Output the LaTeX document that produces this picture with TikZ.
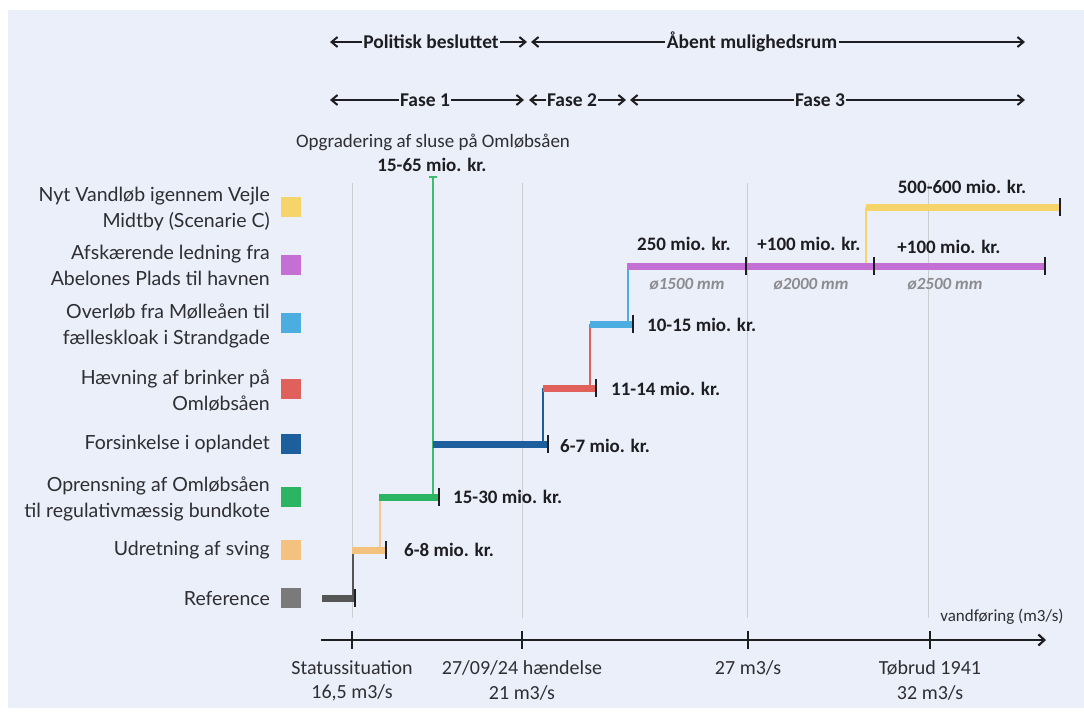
\documentclass[tikz,border=0pt]{standalone}
\usepackage{fontspec}
\setmainfont{Carlito}
\newfontfamily\legfont{Lato}
\usetikzlibrary{arrows.meta}
\definecolor{bg}{HTML}{EBEFF9}
\definecolor{gridc}{HTML}{CBCDD2}
\definecolor{tickc}{HTML}{1E1E22}
\definecolor{txtc}{HTML}{2E2E33}
\definecolor{yelc}{HTML}{F5D46A}
\definecolor{purc}{HTML}{C36FD4}
\definecolor{lbluc}{HTML}{4BADE0}
\definecolor{redc}{HTML}{E0615B}
\definecolor{dbluc}{HTML}{1C5F9C}
\definecolor{grnc}{HTML}{2BB462}
\definecolor{orac}{HTML}{F3C27E}
\definecolor{grayc}{HTML}{555555}
\definecolor{sqgray}{HTML}{7A7A7A}
\definecolor{dimc}{HTML}{8C8C90}
\tikzset{
  gridline/.style={draw=gridc, line width=0.9pt},
  bar/.style={line width=7pt, line cap=butt},
  conn/.style={line width=2.2pt, line cap=butt},
  tickn/.style={fill=tickc, minimum width=2.8pt, minimum height=18pt, inner sep=0pt, draw=none},
  costlbl/.style={font=\bfseries\fontsize{19}{22}\selectfont, text=tickc, inner sep=0pt},
  dimlbl/.style={font=\bfseries\itshape\fontsize{17}{19}\selectfont, text=dimc, inner sep=0pt},
  leg/.style={font=\legfont\fontsize{19.5}{26}\selectfont, align=right, anchor=east, text=txtc, inner sep=0pt},
  sq/.style={minimum size=20pt, inner sep=0pt, draw=none},
  phasearr/.style={line width=2pt, draw=tickc, {Straight Barb[length=6pt,width=10pt]}-{Straight Barb[length=6pt,width=10pt]}},
  phaselbl/.style={fill=bg, font=\bfseries\fontsize{19.5}{22}\selectfont, text=tickc, inner xsep=1.5pt, inner ysep=1pt},
  axlbl/.style={font=\fontsize{20}{23}\selectfont, text=txtc, inner sep=0pt}
}
\begin{document}
\begin{tikzpicture}[x=1pt,y=-1pt]
\useasboundingbox (0,0) rectangle (1084,713);
\fill[white] (0,0) rectangle (1084,713);
\fill[bg] (8,10) rectangle (1084,708);

% ---- phase arrows ----
\coordinate (pa0) at (330,42); \coordinate (pa1) at (527,42);
\coordinate (pb0) at (531,42); \coordinate (pb1) at (1025,42);
\draw[phasearr] (pa0) -- (pa1);
\draw[phasearr] (pb0) -- (pb1);
\node[phaselbl] (polit) at (431,42) {Politisk besluttet};
\node[phaselbl] (aabent) at (752,42) {Åbent mulighedsrum};
\coordinate (fa0) at (330,100); \coordinate (fa1) at (524,100);
\coordinate (fb0) at (529,100); \coordinate (fb1) at (626,100);
\coordinate (fc0) at (630,100); \coordinate (fc1) at (1025,100);
\draw[phasearr] (fa0) -- (fa1);
\draw[phasearr] (fb0) -- (fb1);
\draw[phasearr] (fc0) -- (fc1);
\node[phaselbl] (fase1) at (425,100) {Fase 1};
\node[phaselbl] (fase2) at (572,100) {Fase 2};
\node[phaselbl] (fase3) at (820,100) {Fase 3};

% ---- gridlines ----
\foreach \gx/\nm in {352/a,522/b,747/c,928/d}{
  \coordinate (gt\nm) at (\gx,183);
  \coordinate (gb\nm) at (\gx,618);
  \draw[gridline] (gt\nm) -- (gb\nm);
}

% ---- axis ----
\coordinate (ax0) at (321,640); \coordinate (ax1) at (1046,640);
\draw[line width=2.2pt, draw=tickc, -{Straight Barb[length=6pt,width=11pt]}] (ax0) -- (ax1);
\node[tickn] (t1) at (352,640) {};
\node[tickn] (t2) at (522,640) {};
\node[tickn] (t3) at (748,640) {};
\node[tickn] (t4) at (930,640) {};
\node[font=\fontsize{17}{19}\selectfont, text=txtc, inner sep=0pt] (vf) at (1002,617) {vandføring (m3/s)};
\node[axlbl] (s1) at (352,668) {Statussituation};
\node[axlbl] (s1b) at (352,693) {16,5 m3/s};
\node[axlbl] (s2) at (522,668) {27/09/24 hændelse};
\node[axlbl] (s2b) at (522,693) {21 m3/s};
\node[axlbl] (s3) at (748,668) {27 m3/s};
\node[axlbl] (s4) at (930,668) {Tøbrud 1941};
\node[axlbl] (s4b) at (930,693) {32 m3/s};

% ---- legend ----
\node[leg] (l1) at (270,209) {Nyt Vandløb igennem Vejle\\Midtby (Scenarie C)};
\node[sq, fill=yelc] (q1) at (291,207) {};
\node[leg] (l2) at (270,265) {Afskærende ledning fra\\Abelones Plads til havnen};
\node[sq, fill=purc] (q2) at (291,265) {};
\node[leg] (l3) at (270,326) {Overløb fra Mølleåen til\\fælleskloak i Strandgade};
\node[sq, fill=lbluc] (q3) at (291,323) {};
\node[leg] (l4) at (270,391) {Hævning af brinker på\\Omløbsåen};
\node[sq, fill=redc] (q4) at (291,389) {};
\node[leg] (l5) at (270,444) {Forsinkelse i oplandet};
\node[sq, fill=dbluc] (q5) at (291,444) {};
\node[leg] (l6) at (270,499) {Oprensning af Omløbsåen\\til regulativmæssig bundkote};
\node[sq, fill=grnc] (q6) at (291,497) {};
\node[leg] (l7) at (270,550) {Udretning af sving};
\node[sq, fill=orac] (q7) at (291,550) {};
\node[leg] (l8) at (270,598) {Reference};
\node[sq, fill=sqgray] (q8) at (291,598) {};

% ---- step coordinates ----
\coordinate (r0) at (322,598); \coordinate (r1) at (355,598);
\coordinate (u0) at (352,550); \coordinate (u1) at (386,550);
\coordinate (g0) at (379,497); \coordinate (g1) at (439,497);
\coordinate (d0) at (433,444); \coordinate (d1) at (548,444);
\coordinate (h0) at (543,388); \coordinate (h1) at (596,388);
\coordinate (b0) at (590,324); \coordinate (b1) at (633,324);
\coordinate (p0) at (627,266); \coordinate (p1) at (746,266);
\coordinate (p2) at (874,266); \coordinate (p3) at (1045,266);
\coordinate (y0) at (866,207); \coordinate (y1) at (1060,207);
% connector ends
\coordinate (cr0) at (353,598); \coordinate (cr1) at (353,550);
\coordinate (cu0) at (380,550); \coordinate (cu1) at (380,497);
\coordinate (cg0) at (433,497); \coordinate (cg1) at (433,177);
\coordinate (cd0) at (543,444); \coordinate (cd1) at (543,388);
\coordinate (ch0) at (590,388); \coordinate (ch1) at (590,324);
\coordinate (cb0) at (628,324); \coordinate (cb1) at (628,266);
\coordinate (cy0) at (866,266); \coordinate (cy1) at (866,207);
\coordinate (gcapL) at (429,177); \coordinate (gcapR) at (437,177);

% ---- vertical connectors ----
\draw[conn, draw=grayc] (cr0) -- (cr1);
\draw[conn, draw=orac!85] (cu0) -- (cu1);
\draw[conn, draw=grnc!90] (cg0) -- (cg1);
\draw[line width=2pt, draw=grnc!90] (gcapL) -- (gcapR);
\draw[conn, draw=dbluc] (cd0) -- (cd1);
\draw[conn, draw=redc] (ch0) -- (ch1);
\draw[conn, draw=lbluc] (cb0) -- (cb1);
\draw[conn, draw=yelc] (cy0) -- (cy1);

% ---- bars ----
\draw[bar, draw=grayc] (r0) -- (r1);
\draw[bar, draw=orac] (u0) -- (u1);
\draw[bar, draw=grnc] (g0) -- (g1);
\draw[bar, draw=dbluc] (d0) -- (d1);
\draw[bar, draw=redc] (h0) -- (h1);
\draw[bar, draw=lbluc] (b0) -- (b1);
\draw[bar, draw=purc] (p0) -- (p3);
\draw[bar, draw=yelc] (y0) -- (y1);

% ---- end ticks ----
\node[tickn] (k1) at (r1) {};
\node[tickn] (k2) at (u1) {};
\node[tickn] (k3) at (g1) {};
\node[tickn] (k4) at (d1) {};
\node[tickn] (k5) at (h1) {};
\node[tickn] (k6) at (b1) {};
\node[tickn] (k7) at (p1) {};
\node[tickn] (k8) at (p2) {};
\node[tickn] (k9) at (p3) {};
\node[tickn] (k10) at (y1) {};

% ---- cost labels ----
\node[costlbl, anchor=west] (c1) at (404,550) {6-8 mio. kr.};
\node[costlbl, anchor=west] (c2) at (453,497) {15-30 mio. kr.};
\node[costlbl, anchor=west] (c3) at (560,446) {6-7 mio. kr.};
\node[costlbl, anchor=west] (c4) at (611,389) {11-14 mio. kr.};
\node[costlbl, anchor=west] (c5) at (647,325) {10-15 mio. kr.};
\node[costlbl] (c6) at (684,244) {250 mio. kr.};
\node[costlbl] (c7) at (809,244) {+100 mio. kr.};
\node[costlbl] (c8) at (949,247) {+100 mio. kr.};
\node[costlbl] (c9) at (962,187) {500-600 mio. kr.};
\node[costlbl] (c10) at (432,165) {15-65 mio. kr.};
\node[axlbl, font=\fontsize{19}{22}\selectfont] (opg) at (433,142) {Opgradering af sluse på Omløbsåen};
\node[dimlbl] (o1) at (687,284) {ø1500 mm};
\node[dimlbl] (o2) at (811,284) {ø2000 mm};
\node[dimlbl] (o3) at (945,284) {ø2500 mm};
\end{tikzpicture}
\end{document}
